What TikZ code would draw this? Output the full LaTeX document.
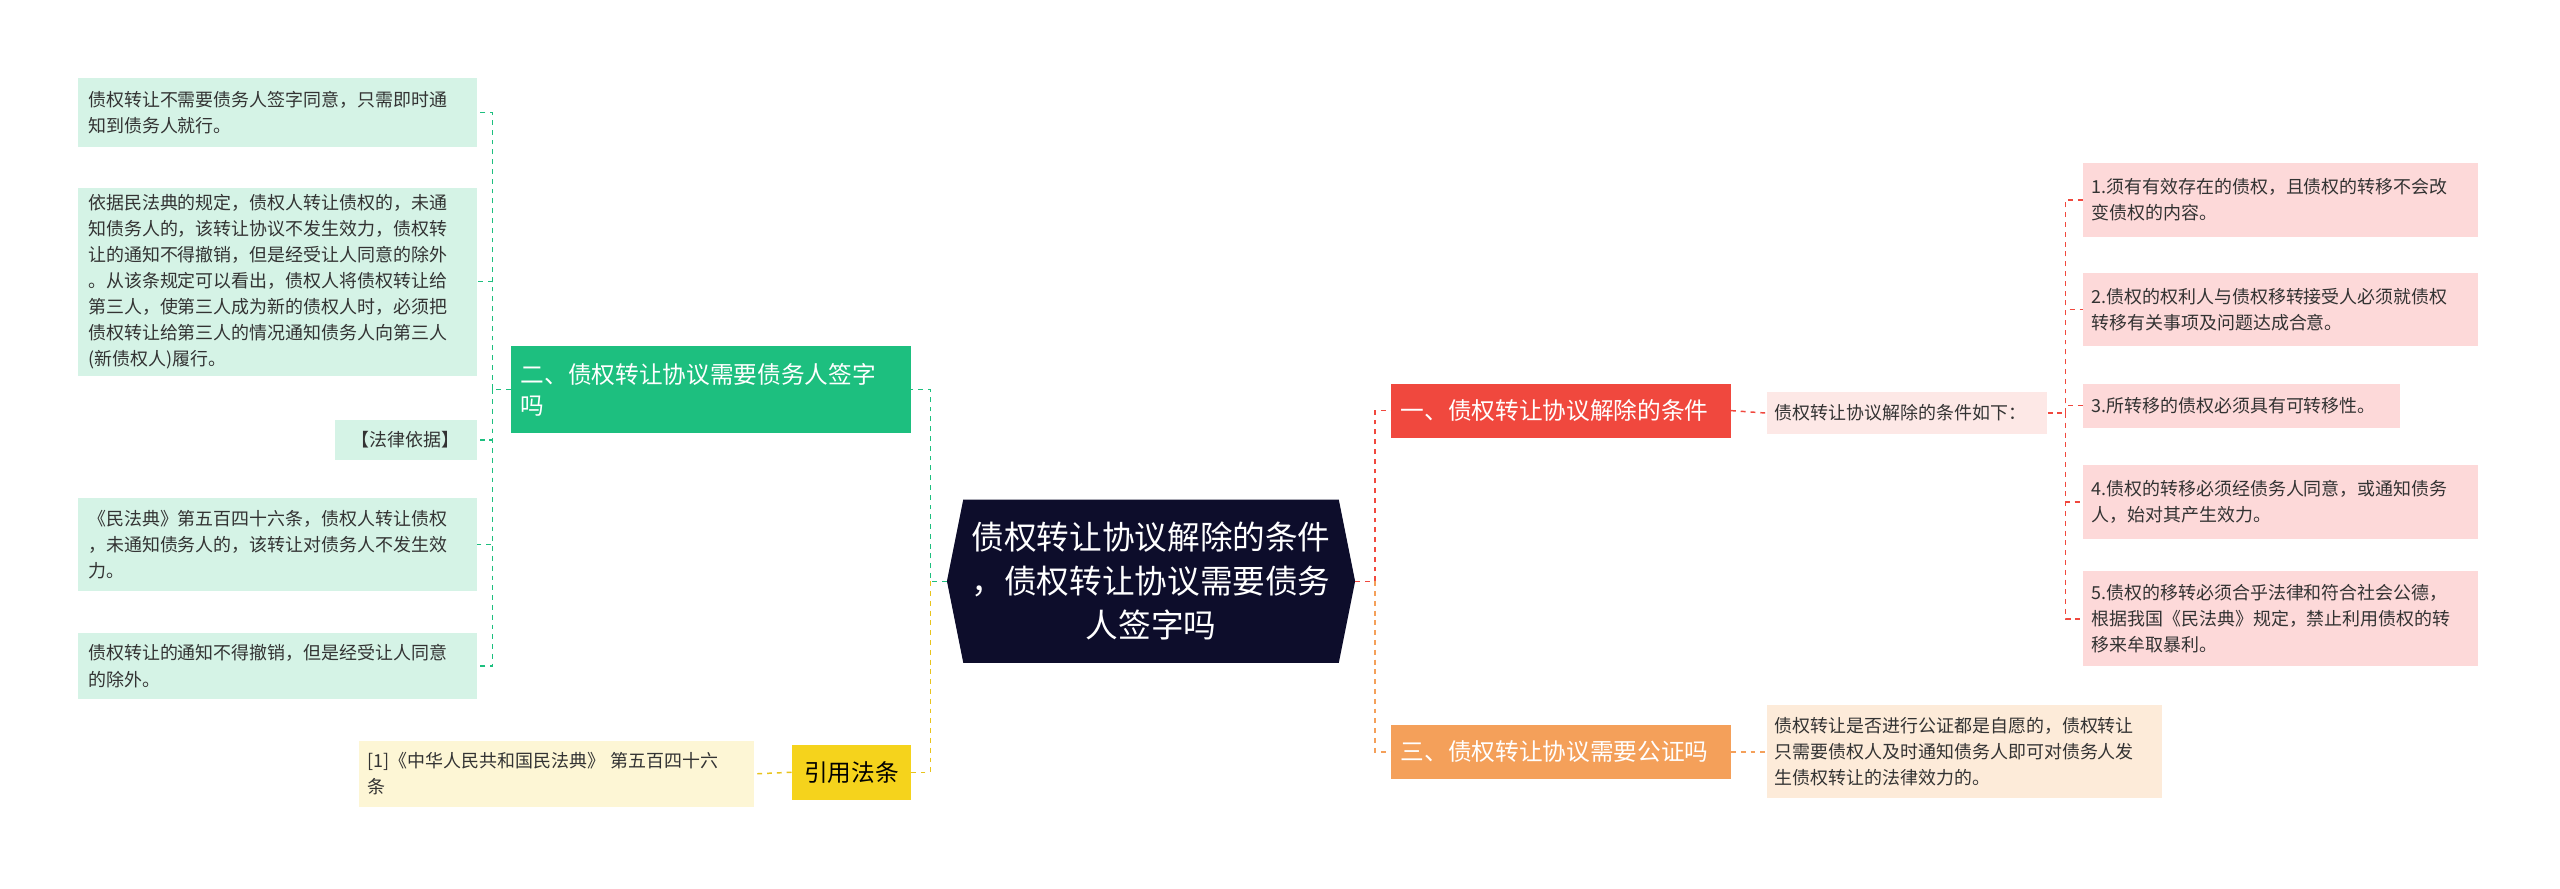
\documentclass[tikz,border=0pt]{standalone}
\usepackage{fontspec}
\setmainfont{Noto Sans CJK SC}
\begin{document}
\begin{tikzpicture}[x=1pt,y=-1pt,
 leaf/.style={inner sep=0pt,align=left,font=\fontsize{11pt}{16pt}\selectfont,text=black!80},
 br/.style={inner sep=0pt,align=left,font=\fontsize{14.5pt}{19pt}\selectfont,text=white},
 con/.style={dashed,line width=0.9pt}]
\definecolor{gr}{HTML}{1DBF7F}\definecolor{lgr}{HTML}{D5F3E6}
\definecolor{rd}{HTML}{F0483E}\definecolor{lrd}{HTML}{FDD9D9}\definecolor{llrd}{HTML}{FDE8E6}
\definecolor{og}{HTML}{F4A05A}\definecolor{log}{HTML}{FDEBD9}
\definecolor{yl}{HTML}{F5D31C}\definecolor{lyl}{HTML}{FDF6D5}\definecolor{ylc}{HTML}{E8C31C}
\definecolor{nv}{HTML}{0D0D2B}
\useasboundingbox (0,0) rectangle (1568,544);
\fill[white] (0,0) rectangle (1568,544);
% center
\fill[nv] (590,306)--(820,306)--(830,356)--(820,406)--(590,406)--(580,356)--cycle;
\node[inner sep=0pt,minimum width=250pt,minimum height=100pt,align=center,text width=236pt,text=white,font=\fontsize{20pt}{27pt}\selectfont] (c) at (705,356) {债权转让协议解除的条件\\，债权转让协议需要债务\\人签字吗};
% right branches
\node[br,fill=rd,minimum width=208pt,minimum height=33pt,text width=196pt] (r1) at (956,251.5) {一、债权转让协议解除的条件};
\node[leaf,fill=llrd,minimum width=172pt,minimum height=26pt,text width=162pt] (r1c) at (1168,253) {债权转让协议解除的条件如下：};
\node[leaf,fill=lrd,minimum width=242pt,minimum height=45pt,text width=232pt] (p1) at (1397,122.5) {1.须有有效存在的债权，且债权的转移不会改\\变债权的内容。};
\node[leaf,fill=lrd,minimum width=242pt,minimum height=45pt,text width=232pt] (p2) at (1397,189.5) {2.债权的权利人与债权移转接受人必须就债权\\转移有关事项及问题达成合意。};
\node[leaf,fill=lrd,minimum width=194pt,minimum height=27pt,text width=184pt] (p3) at (1373,248.5) {3.所转移的债权必须具有可转移性。};
\node[leaf,fill=lrd,minimum width=242pt,minimum height=45pt,text width=232pt] (p4) at (1397,307.5) {4.债权的转移必须经债务人同意，或通知债务\\人，始对其产生效力。};
\node[leaf,fill=lrd,minimum width=242pt,minimum height=58pt,text width=232pt] (p5) at (1397,379) {5.债权的移转必须合乎法律和符合社会公德，\\根据我国《民法典》规定，禁止利用债权的转\\移来牟取暴利。};
\node[br,fill=og,minimum width=208pt,minimum height=33pt,text width=196pt] (r3) at (956,460.5) {三、债权转让协议需要公证吗};
\node[leaf,fill=log,minimum width=242pt,minimum height=57pt,text width=232pt] (r3c) at (1203,460.5) {债权转让是否进行公证都是自愿的，债权转让\\只需要债权人及时通知债务人即可对债务人发\\生债权转让的法律效力的。};
% left branches
\node[br,fill=gr,minimum width=245pt,minimum height=53pt,text width=233pt] (l2) at (435.5,238.5) {二、债权转让协议需要债务人签字\\吗};
\node[leaf,fill=lgr,minimum width=244pt,minimum height=42pt,text width=232pt] (a) at (170,69) {债权转让不需要债务人签字同意，只需即时通\\知到债务人就行。};
\node[leaf,fill=lgr,minimum width=244pt,minimum height=115pt,text width=232pt] (b) at (170,172.5) {依据民法典的规定，债权人转让债权的，未通\\知债务人的，该转让协议不发生效力，债权转\\让的通知不得撤销，但是经受让人同意的除外\\。从该条规定可以看出，债权人将债权转让给\\第三人，使第三人成为新的债权人时，必须把\\债权转让给第三人的情况通知债务人向第三人\\(新债权人)履行。};
\node[leaf,fill=lgr,minimum width=87pt,minimum height=25pt,align=center] (cc) at (248.5,269.5) {【法律依据】};
\node[leaf,fill=lgr,minimum width=244pt,minimum height=57pt,text width=232pt] (d) at (170,333.5) {《民法典》第五百四十六条，债权人转让债权\\，未通知债务人的，该转让对债务人不发生效\\力。};
\node[leaf,fill=lgr,minimum width=244pt,minimum height=40pt,text width=232pt] (e) at (170,408) {债权转让的通知不得撤销，但是经受让人同意\\的除外。};
\node[inner sep=0pt,fill=yl,minimum width=73pt,minimum height=34pt,font=\fontsize{14.5pt}{19pt}\selectfont] (y) at (521.5,473) {引用法条};
\node[leaf,fill=lyl,minimum width=242pt,minimum height=40pt,text width=232pt] (yc) at (341,474) {[1]《中华人民共和国民法典》 第五百四十六\\条};
% connectors
\draw[con,rd] (c.east) -- ++(12,0) coordinate (cr) |- (r1.west);
\draw[con,og] (cr) |- (r3.west);
\draw[con,rd] (r1.east) -- (r1c.west);
\draw[con,og] (r3.east) -- (r3c.west);
\draw[con,rd] (r1c.east) -- ++(11,0) coordinate (rr);
\foreach \n in {p1,p2,p3,p4,p5} \draw[con,rd] (rr) |- (\n.west);
\draw[con,gr] (c.west) -- ++(-10,0) coordinate (cl) |- (l2.east);
\draw[con,ylc] (cl) |- (y.east);
\draw[con,ylc] (y.west) -- (yc.east);
\draw[con,gr] (l2.west) -- ++(-11,0) coordinate (ll);
\foreach \n in {a,b,cc,d,e} \draw[con,gr] (ll) |- (\n.east);
\end{tikzpicture}
\end{document}
